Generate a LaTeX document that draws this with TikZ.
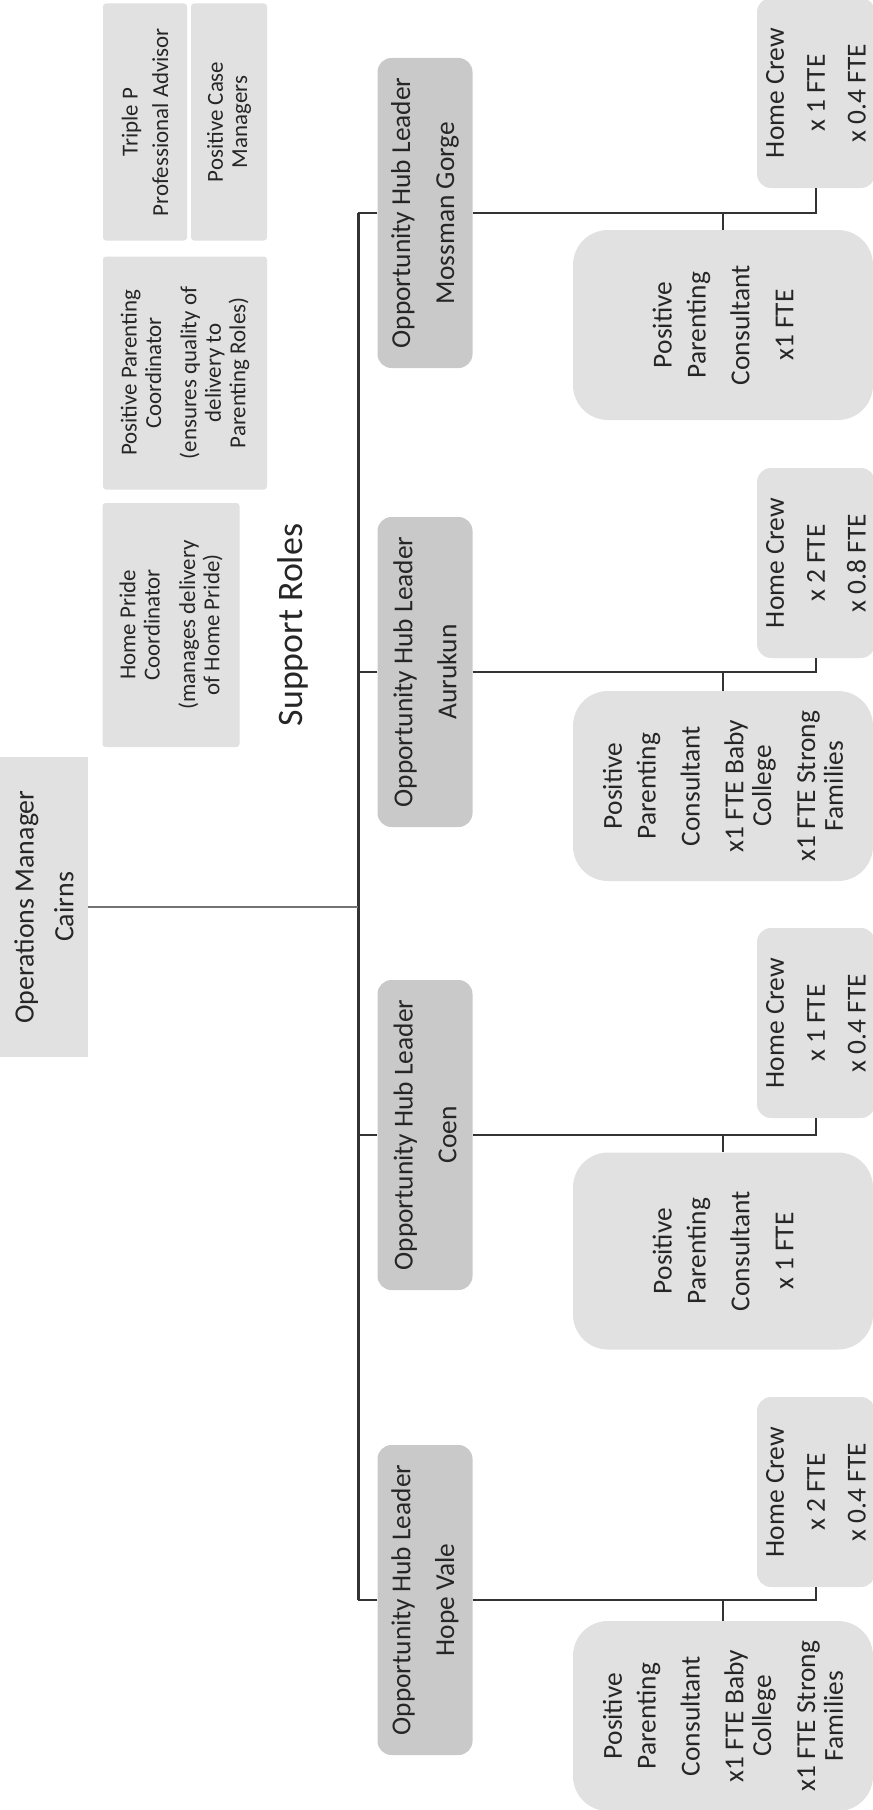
\documentclass[tikz,border=0pt]{standalone}
\usepackage{fontspec}
\setmainfont{Carlito}

\definecolor{hubgray}{HTML}{C9C9C9}
\definecolor{boxgray}{HTML}{E1E1E1}

\tikzset{
  orgbox/.style={rotate=90, fill=boxgray, text=black!85, align=center, inner sep=0pt},
  hub/.style={orgbox, fill=hubgray, rounded corners=14bp, minimum width=310bp, minimum height=95bp, font=\fontsize{27.5}{30}\selectfont},
  crew/.style={orgbox, rounded corners=14bp, minimum width=190bp, minimum height=118bp, font=\fontsize{27.5}{30}\selectfont},
  ppc/.style={orgbox, rounded corners=35bp, minimum width=190bp, minimum height=300bp, font=\fontsize{27.5}{28}\selectfont},
  role/.style={orgbox, rounded corners=3bp, font=\fontsize{23}{24.5}\selectfont},
  link/.style={draw=black!80, line width=1.8bp},
}

\begin{document}
\begin{tikzpicture}[x=1bp, y=-1bp]
\useasboundingbox (0,0) rectangle (873,1810);

\node[orgbox, minimum width=300bp, minimum height=88bp, font=\fontsize{28}{30}\selectfont] (ops) at (44,907) {Operations Manager\\[10pt]Cairns};

% support roles
\node[role, minimum width=237bp, minimum height=84bp] (triplep) at (145,122) {Triple P\\[6pt]Professional Advisor};
\node[role, minimum width=237bp, minimum height=76bp] (casemgr) at (229,122) {Positive Case\\Managers};
\node[role, minimum width=233bp, minimum height=164bp] (ppcoord) at (185,373) {Positive Parenting\\Coordinator\\[11pt](ensures quality of\\delivery to\\Parenting Roles)};
\node[role, minimum width=244bp, minimum height=137bp] (hpcoord) at (171,625) {Home Pride\\Coordinator\\[11pt](manages delivery\\of Home Pride)};
\node[rotate=90, text=black!85, font=\fontsize{36}{40}\selectfont] (support) at (293,625) {Support Roles};

% hub leaders
\coordinate (bustop) at (358,213);
\coordinate (busbot) at (358,1600);
\node[hub] (hubmg) at (425,213) {Opportunity Hub Leader\\[14pt]Mossman Gorge};
\node[hub] (hubau) at (425,672) {Opportunity Hub Leader\\[14pt]Aurukun};
\node[hub] (hubco) at (425,1135) {Opportunity Hub Leader\\[14pt]Coen};
\node[hub] (hubhv) at (425,1600) {Opportunity Hub Leader\\[14pt]Hope Vale};

% home crews
\node[crew] (crewmg) at (816,93) {Home Crew\\[11pt]x 1 FTE\\[11pt]x 0.4 FTE};
\node[crew] (crewau) at (816,563) {Home Crew\\[11pt]x 2 FTE\\[11pt]x 0.8 FTE};
\node[crew] (crewco) at (816,1023) {Home Crew\\[11pt]x 1 FTE\\[11pt]x 0.4 FTE};
\node[crew] (crewhv) at (816,1492) {Home Crew\\[11pt]x 2 FTE\\[11pt]x 0.4 FTE};

% parenting consultants
\node[ppc] (ppcmg) at (723,325) {Positive\\[6pt]Parenting\\[16pt]Consultant\\[16pt]x1 FTE};
\node[ppc] (ppcau) at (723,786) {Positive\\[6pt]Parenting\\[16pt]Consultant\\[16pt]x1 FTE Baby\\College\\[16pt]x1 FTE Strong\\Families};
\node[ppc, minimum width=197bp] (ppcco) at (723,1251) {Positive\\[6pt]Parenting\\[16pt]Consultant\\[16pt]x 1 FTE};
\node[ppc] (ppchv) at (723,1716) {Positive\\[6pt]Parenting\\[16pt]Consultant\\[16pt]x1 FTE Baby\\College\\[16pt]x1 FTE Strong\\Families};

\draw[link, line width=3bp] (bustop) -- (busbot);
\draw[link, draw=black!55] (ops.south) -- (ops.south -| bustop);
\foreach \h in {mg,au,co,hv}{
  \draw[link] (hub\h.north) -- (hub\h.north -| bustop);
  \draw[link] (hub\h.south) -| (crew\h.west);
  \draw[link] (ppc\h.east |- hub\h.south) -- (ppc\h.east);
}
\end{tikzpicture}
\end{document}
